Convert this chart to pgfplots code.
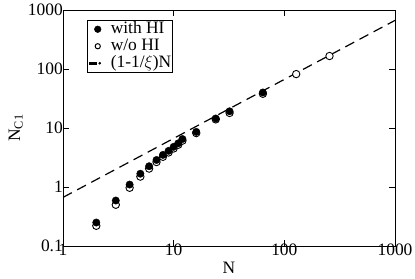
\documentclass[border=0pt]{standalone}
\usepackage{pgfplots}
\pgfplotsset{compat=1.18}
\usepackage{fontspec}
\setmainfont{Liberation Serif}
\begin{document}
\begin{tikzpicture}[x=1bp,y=1bp]
\begin{axis}[
  at={(0,0)}, anchor=south west,
  scale only axis,
  width=332bp, height=236bp,
  xmode=log, ymode=log,
  xmin=1, xmax=1000, ymin=0.1, ymax=1000,
  log basis x=10, log basis y=10,
  xtick={1,10,100,1000}, xticklabels={1,10,100,1000},
  ytick={0.1,1,10,100,1000}, yticklabels={0.1,1,10,100,1000},
  tick align=inside,
  major tick length=6bp, minor tick length=3bp,
  every tick/.style={black, line width=0.5pt},
  axis line style={line width=0.8pt},
  ticklabel style={font=\fontsize{17.5}{17.5}\selectfont},
  xticklabel style={inner sep=1bp, yshift=3bp},
  yticklabel style={inner sep=1bp, xshift=1bp},
  xlabel={N}, ylabel={N$_{\mathrm{C1}}$},
  label style={font=\fontsize{17.5}{17.5}\selectfont},
  xlabel style={inner sep=0bp, yshift=-5bp},
  ylabel style={inner sep=0bp, yshift=4bp},
  legend style={at={(axis cs:1.648,677)}, anchor=north west, font=\fontsize{17.5}{17.5}\selectfont,
     draw=black, line width=0.5pt, inner sep=0.5bp, row sep=0bp,
     nodes={inner sep=1bp, text height=11.5bp, text depth=3.5bp}},
  legend cell align=left,
]
\addlegendimage{legend image code/.code={\path[draw=none,fill=none] (0bp,0bp) -- (22bp,0bp); \draw[black,fill=black,solid] (10bp,0bp) circle (3.3bp);}}
\addlegendentry{with HI}
\addlegendimage{legend image code/.code={\path[draw=none,fill=none] (0bp,0bp) -- (22bp,0bp); \draw[black,line width=1pt,solid,fill=none] (10bp,0bp) circle (2.6bp);}}
\addlegendentry{w/o HI}
\addlegendimage{legend image code/.code={\path[draw=none,fill=none] (0bp,0bp) -- (22bp,0bp); \fill[black] (1bp,-0.8bp) rectangle (8bp,0.8bp); \fill[black] (12bp,0bp) circle (1.1bp);}}
\addlegendentry{(1-1/$\xi$)N}

\addplot[black, line width=1.2pt, dash pattern=on 10bp off 6bp, forget plot] coordinates {(1,0.6667) (1000,666.7)};

\addplot[only marks, mark=*, mark size=3.7bp, mark options={draw=black, fill=white, line width=0.9pt}, forget plot] coordinates {
(2,0.22) (3,0.50) (4,0.97) (5,1.5) (6,2.05) (7,2.65) (8,3.25) (9,3.85) (10,4.5) (11,5.2) (12,6.1)
(16,8.2) (24,14) (32,18) (64,38) (128,82) (256,166)
};
\addplot[only marks, mark=*, mark size=3.7bp, mark options={draw=black, fill=black}, forget plot] coordinates {
(2,0.25) (3,0.59) (4,1.1) (5,1.68) (6,2.25) (7,2.87) (8,3.5) (9,4.1) (10,4.8) (11,5.5) (12,6.5)
(16,8.6) (24,14.5) (32,19.2) (64,40)
};
\end{axis}
\pgfresetboundingbox
\path[use as bounding box] (-63bp,-33bp) rectangle (352bp,246bp);
\end{tikzpicture}
\end{document}
